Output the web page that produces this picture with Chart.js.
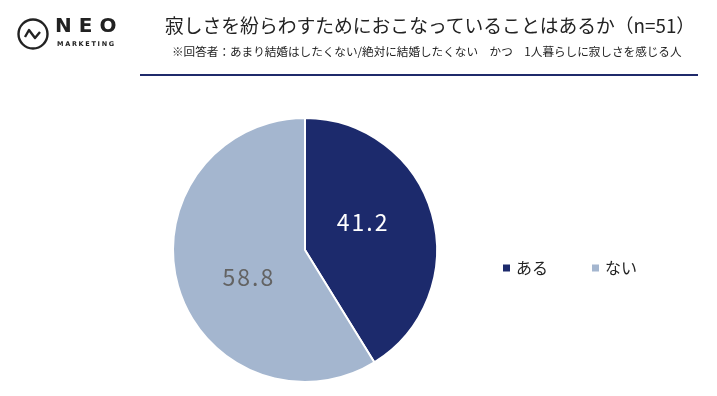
<!DOCTYPE html>
<html>
<head>
<meta charset="utf-8">
<script src="https://cdn.jsdelivr.net/npm/chart.js@4"></script>
<style>
  body { margin: 0; background: #fff; }
  #wrap { position: relative; width: 717px; height: 396px; font-family: "Noto Sans CJK JP", sans-serif; }
  #chart { position: absolute; left: 0; top: 0; }
  .title { position: absolute; left: 165px; top: 11px; font-size: 18.8px; color: #222; white-space: nowrap; }
  .sub { position: absolute; left: 172px; top: 43px; font-size: 11.6px; color: #222; white-space: nowrap; }
  .rule { position: absolute; left: 140px; top: 74px; width: 558px; height: 2px; background: #1f2a6b; }
  .neo { position: absolute; left: 55px; top: 13px; font-family: "DejaVu Sans", sans-serif; font-weight: bold; font-size: 20px; letter-spacing: 7px; color: #222; }
  .mk { position: absolute; left: 57px; top: 40px; font-family: "DejaVu Sans", sans-serif; font-weight: bold; font-size: 6.5px; letter-spacing: 1.7px; color: #222; }
</style>
</head>
<body>
<div id="wrap">
  <canvas id="chart" width="717" height="396"></canvas>
  <svg style="position:absolute;left:16px;top:17px" width="34" height="34">
    <circle cx="17" cy="17" r="14.5" fill="none" stroke="#222" stroke-width="2.4"/>
    <polyline points="9,20 13,13 19,21 24,15" fill="none" stroke="#222" stroke-width="2.4" stroke-linejoin="round"/>
  </svg>
  <div class="neo">NEO</div>
  <div class="mk">MARKETING</div>
  <div class="title">寂しさを紛らわすためにおこなっていることはあるか（n=51）</div>
  <div class="sub">※回答者：あまり結婚はしたくない/絶対に結婚したくない　かつ　1人暮らしに寂しさを感じる人</div>
  <div class="rule"></div>
</div>
<script>
// 回答データ
const categories = ['ある', 'ない'];
const values = [41.2, 58.8];
const colors = ['#1c2a6c', '#a4b6cf'];
const labelColors = ['#ffffff', '#636363'];

// スライス内の数値ラベル
const sliceLabels = {
    id: 'sliceLabels',
    afterDatasetsDraw(chart) {
        const ctx = chart.ctx;
        const meta = chart.getDatasetMeta(0);
        ctx.save();
        ctx.font = '23px "Noto Sans CJK JP", sans-serif';
        ctx.letterSpacing = '2px';
        ctx.textAlign = 'center';
        ctx.textBaseline = 'middle';
        meta.data.forEach((arc, i) => {
            const mid = (arc.startAngle + arc.endAngle) / 2 - 0.17;
            const r = arc.outerRadius * 0.48;
            ctx.fillStyle = labelColors[i];
            ctx.fillText(values[i].toFixed(1), arc.x + Math.cos(mid) * r + 1, arc.y + Math.sin(mid) * r);
        });
        ctx.restore();
    }
};

// 凡例（右側）
const sideLegend = {
    id: 'sideLegend',
    afterDraw(chart) {
        const ctx = chart.ctx;
        ctx.save();
        ctx.font = '16px "Noto Sans CJK JP", sans-serif';
        ctx.textBaseline = 'middle';
        categories.forEach((c, i) => {
            const x = 503 + i * 89, y = 268;
            ctx.fillStyle = colors[i];
            ctx.fillRect(x, y - 3.5, 7, 7);
            ctx.fillStyle = '#222';
            ctx.fillText(c, x + 13, y);
        });
        ctx.restore();
    }
};

const ctx = document.getElementById('chart').getContext('2d');
const pieChart = new Chart(ctx, {
    type: 'pie',
    data: {
        labels: categories,
        datasets: [{
            data: values,
            backgroundColor: colors,
            borderColor: '#ffffff',
            borderWidth: 2
        }]
    },
    options: {
        responsive: false,
        animation: false,
        layout: { padding: { left: 172, right: 279, top: 117, bottom: 13 } },
        plugins: { legend: { display: false }, tooltip: { enabled: false } }
    },
    plugins: [sliceLabels, sideLegend]
});
</script>
</body>
</html>
